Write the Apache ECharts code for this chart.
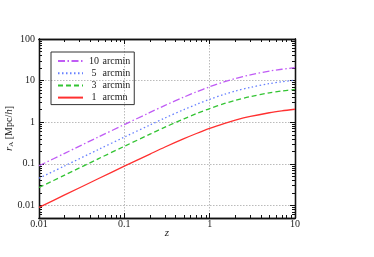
<!DOCTYPE html>
<html>
<head>
<meta charset="utf-8">
<script src="https://cdn.jsdelivr.net/npm/echarts@6/dist/echarts.min.js"></script>
<style>html,body{margin:0;padding:0;background:#fff}#c{width:374px;height:257px}</style>
</head>
<body>
<div id="c"></div>
<script>
// redshift samples
const zValues = [0.01, 0.02, 0.05, 0.1, 0.2, 0.3, 0.5, 0.7, 1, 1.5, 2, 3, 5, 7, 10];
// r_A [Mpc/h]
const arcmin10 = [0.090, 0.179, 0.445, 0.879, 1.72, 2.54, 4.03, 5.36, 7.12, 9.41, 11.22, 13.78, 16.9, 18.76, 20.53];
const arcmin5  = [0.045, 0.0895, 0.2225, 0.44, 0.86, 1.27, 2.015, 2.68, 3.56, 4.705, 5.61, 6.89, 8.45, 9.38, 10.27];
const arcmin3  = [0.0270, 0.0537, 0.1335, 0.264, 0.516, 0.762, 1.209, 1.608, 2.136, 2.823, 3.366, 4.134, 5.07, 5.628, 6.159];
const arcmin1  = [0.0090, 0.0179, 0.0445, 0.0879, 0.172, 0.254, 0.403, 0.536, 0.712, 0.941, 1.122, 1.378, 1.69, 1.876, 2.053];
const seriesNames = ['10 arcmin', '5  arcmin', '3  arcmin', '1  arcmn'];
// ticks
const xMajor = [0.01, 0.1, 1, 10];
const xMinor = [0.02,0.03,0.04,0.05,0.06,0.07,0.08,0.09,0.2,0.3,0.4,0.5,0.6,0.7,0.8,0.9,2,3,4,5,6,7,8,9];
const yMajor = [0.01, 0.1, 1, 10, 100];
const yMinor = [0.006,0.007,0.008,0.009,0.02,0.03,0.04,0.05,0.06,0.07,0.08,0.09,0.2,0.3,0.4,0.5,0.6,0.7,0.8,0.9,2,3,4,5,6,7,8,9,20,30,40,50,60,70,80,90];

const font = 'Liberation Serif';
const pair = (ys) => zValues.map((z, i) => [z, ys[i]]);
const lbl = v => (v >= 1 ? String(Math.round(v)) : String(+v.toPrecision(1)));

function xAx(pos, ticks, len, labels, split) {
  return {
    type: 'log', logBase: 10, min: 0.01, max: 10, position: pos,
    axisLine: { show: true, lineStyle: { color: '#111', width: 1.3 } },
    axisTick: { show: true, inside: true, length: len, customValues: ticks, lineStyle: { color: '#111', width: 1 } },
    axisLabel: labels ? { show: true, customValues: xMajor, formatter: lbl, fontFamily: font, fontSize: 10, color: '#222', margin: 1.5 } : { show: false },
    splitLine: split ? { show: true, lineStyle: { color: '#bbb', type: [1.5, 1.5], width: 1 } } : { show: false },
    minorTick: { show: false }, minorSplitLine: { show: false }
  };
}
function yAx(pos, ticks, len, labels, split) {
  return {
    type: 'log', logBase: 10, min: 0.005, max: 100, position: pos,
    axisLine: { show: true, lineStyle: { color: '#111', width: 1.3 } },
    axisTick: { show: true, inside: true, length: len, customValues: ticks, lineStyle: { color: '#111', width: 1 } },
    axisLabel: labels ? { show: true, customValues: yMajor, formatter: lbl, fontFamily: font, fontSize: 10, color: '#222', margin: 4 } : { show: false },
    splitLine: split ? { show: true, lineStyle: { color: '#bbb', type: [1.5, 1.5], width: 1 } } : { show: false },
    minorTick: { show: false }, minorSplitLine: { show: false }
  };
}

const xAxes = [xAx('bottom', xMajor, 5, true, true), xAx('bottom', xMinor, 3, false, false), xAx('top', xMajor, 5, false, false), xAx('top', xMinor, 3, false, false)];
xAxes[0].name = 'z';
xAxes[0].nameLocation = 'middle';
xAxes[0].nameGap = 10;
xAxes[0].nameMoveOverlap = false;
xAxes[0].nameTextStyle = { fontFamily: font, fontStyle: 'italic', fontSize: 11, color: '#222' };
const yAxes = [yAx('left', yMajor, 5, true, true), yAx('left', yMinor, 3, false, false), yAx('right', yMajor, 5, false, false), yAx('right', yMinor, 3, false, false)];
yAxes[0].name = '{i|r}{s|A} [Mpc/{i|h}]';
yAxes[0].nameLocation = 'middle';
yAxes[0].nameGap = 24;
yAxes[0].nameMoveOverlap = false;
yAxes[0].nameRotate = 90;
yAxes[0].nameTextStyle = { fontFamily: font, fontSize: 10, color: '#222',
  rich: { i: { fontFamily: font, fontStyle: 'italic', fontSize: 11, color: '#222' },
          s: { fontFamily: font, fontSize: 7, color: '#222', padding: [5, 0, 0, 0] } } };

const colors = ['#c05cf5', '#6680ff', '#33c433', '#ff3030'];
const lineTypes = [[7, 2.5, 1.5, 2.5], [1.5, 2.5], [5, 3], 'solid'];
const data = [arcmin10, arcmin5, arcmin3, arcmin1];

const chart = echarts.init(document.getElementById('c'), null, { renderer: 'canvas' });
chart.setOption({
  animation: false,
  backgroundColor: '#fff',
  grid: { left: 39, right: 79, top: 39, bottom: 39, containLabel: false, outerBoundsMode: 'none' },
  xAxis: xAxes,
  yAxis: yAxes,
  legend: {
    show: true, orient: 'vertical', left: 51, top: 52,
    data: seriesNames,
    itemWidth: 25, itemHeight: 9, itemGap: 2.2,
    padding: [4, 4, 2, 6],
    borderColor: '#333', borderWidth: 1, borderRadius: 0,
    itemStyle: { opacity: 0 },
    formatter: function (name) {
      const parts = name.trim().split(/\s+/);
      return '{n|' + parts[0] + '}{a| ' + parts[1] + '}';
    },
    textStyle: { fontFamily: font, fontSize: 10, color: '#222', lineHeight: 9,
      rich: { n: { width: 12, align: 'right', fontFamily: font, fontSize: 10, color: '#222', lineHeight: 9 },
              a: { fontFamily: font, fontSize: 10, color: '#222', lineHeight: 9 } } }
  },
  series: data.map((d, i) => ({
    name: seriesNames[i], type: 'line', data: pair(d), xAxisIndex: 0, yAxisIndex: 0,
    smooth: 0.3, symbol: 'none', showSymbol: false,
    lineStyle: { color: colors[i], width: 1.3, type: lineTypes[i] },
    itemStyle: { color: colors[i] }
  }))
});
</script>
</body>
</html>
